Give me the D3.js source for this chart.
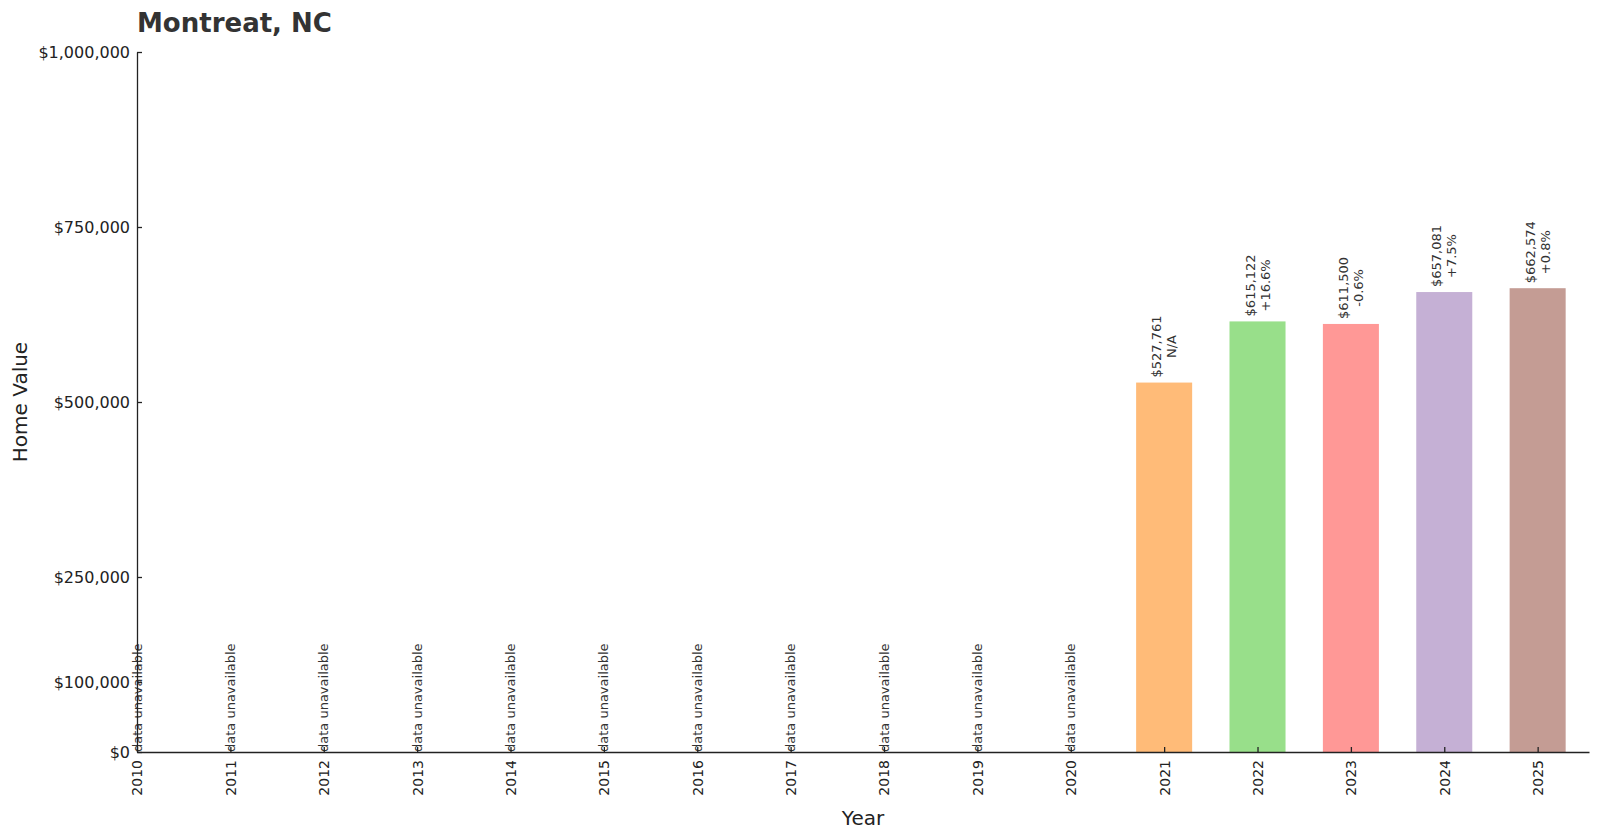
<!DOCTYPE html>
<html lang="en">
  <head>
    <meta charset="UTF-8" />
    <title>Montreat, NC home values</title>
    <script src="https://d3js.org/d3.v7.min.js"></script>
    <style>
      body { margin: 0; background: #fff; }
      svg, svg text { font-family: "DejaVu Sans", sans-serif; }
      .axis path, .axis line { stroke: #222; stroke-width: 1.3px; }
      .axis text { fill: #222; }
    </style>
  </head>
  <body>
    <svg id="chart" width="1600" height="840"></svg>
    <script>
      // data
      const years = [2010, 2011, 2012, 2013, 2014, 2015, 2016, 2017, 2018, 2019, 2020, 2021, 2022, 2023, 2024, 2025];
      const values = [null, null, null, null, null, null, null, null, null, null, null, 527761, 615122, 611500, 657081, 662574];
      const changes = [null, null, null, null, null, null, null, null, null, null, null, "N/A", "+16.6%", "-0.6%", "+7.5%", "+0.8%"];
      const barColors = ["#ffbb78", "#98df8a", "#ff9896", "#c5b0d5", "#c49c94"];
      const yTicks = [0, 100000, 250000, 500000, 750000, 1000000];

      const svg = d3.select("#chart");
      const plotLeft = 137, plotRight = 1589, plotTop = 52, plotBottom = 752;

      const x = d3.scaleLinear().domain([2010, 2025.55]).range([plotLeft, plotRight]);
      const y = d3.scaleLinear().domain([0, 1000000]).range([plotBottom, plotTop]);
      const barW = x(2010.6) - x(2010);
      const fmt = d3.format("$,");

      // bars
      const withData = years.map((yr, i) => ({ yr, v: values[i], c: changes[i] })).filter(d => d.v != null);
      svg.append("g")
        .selectAll("rect")
        .data(withData)
        .enter()
        .append("rect")
        .attr("x", d => x(d.yr) - barW / 2)
        .attr("y", d => y(d.v))
        .attr("width", barW)
        .attr("height", d => y(0) - y(d.v))
        .attr("fill", (d, i) => barColors[i % barColors.length]);

      // value + change labels above bars
      withData.forEach(d => {
        const g = svg.append("g")
          .attr("transform", `translate(${x(d.yr)},${y(d.v) - 5}) rotate(-90)`)
          .style("font-size", "13px")
          .attr("fill", "#333");
        const t1 = g.append("text").attr("y", -7.5).attr("dy", "0.35em").text(fmt(d.v));
        const t2 = g.append("text").attr("y", 7.5).attr("dy", "0.35em").text(d.c);
        const w = Math.max(t1.node().getComputedTextLength(), t2.node().getComputedTextLength());
        t1.attr("x", w / 2).attr("text-anchor", "middle");
        t2.attr("x", w / 2).attr("text-anchor", "middle");
      });

      // "data unavailable" notes
      svg.append("g")
        .selectAll("text")
        .data(years.filter((yr, i) => values[i] == null))
        .enter()
        .append("text")
        .attr("transform", d => `translate(${x(d)},${y(0)}) rotate(-90)`)
        .attr("dy", "0.35em")
        .style("font-size", "13px")
        .attr("fill", "#333")
        .text("data unavailable");

      // axes
      svg.append("g")
        .attr("class", "axis")
        .attr("transform", `translate(${plotLeft},0)`)
        .call(d3.axisLeft(y).tickValues(yTicks).tickFormat(fmt).tickSize(-5).tickPadding(7).tickSizeOuter(0))
        .attr("font-family", null)
        .call(g => g.selectAll("text").style("font-size", "16px"));

      svg.append("g")
        .attr("class", "axis")
        .attr("transform", `translate(0,${plotBottom})`)
        .call(d3.axisBottom(x).tickValues(years).tickFormat(d3.format("d")).tickSize(-5).tickSizeOuter(0))
        .attr("font-family", null)
        .call(g => g.selectAll("text")
          .style("font-size", "14px")
          .attr("text-anchor", "end")
          .attr("transform", "rotate(-90)")
          .attr("x", -8)
          .attr("y", 0)
          .attr("dy", "0.35em"));

      // titles
      svg.append("text")
        .attr("x", plotLeft)
        .attr("y", 32)
        .style("font-size", "26px")
        .style("font-weight", "bold")
        .attr("fill", "#333")
        .text("Montreat, NC");

      svg.append("text")
        .attr("x", (plotLeft + plotRight) / 2)
        .attr("y", 825)
        .attr("text-anchor", "middle")
        .style("font-size", "20px")
        .attr("fill", "#222")
        .text("Year");

      svg.append("text")
        .attr("transform", `translate(27,${(plotTop + plotBottom) / 2}) rotate(-90)`)
        .attr("text-anchor", "middle")
        .style("font-size", "20px")
        .attr("fill", "#222")
        .text("Home Value");
    </script>
  </body>
</html>
